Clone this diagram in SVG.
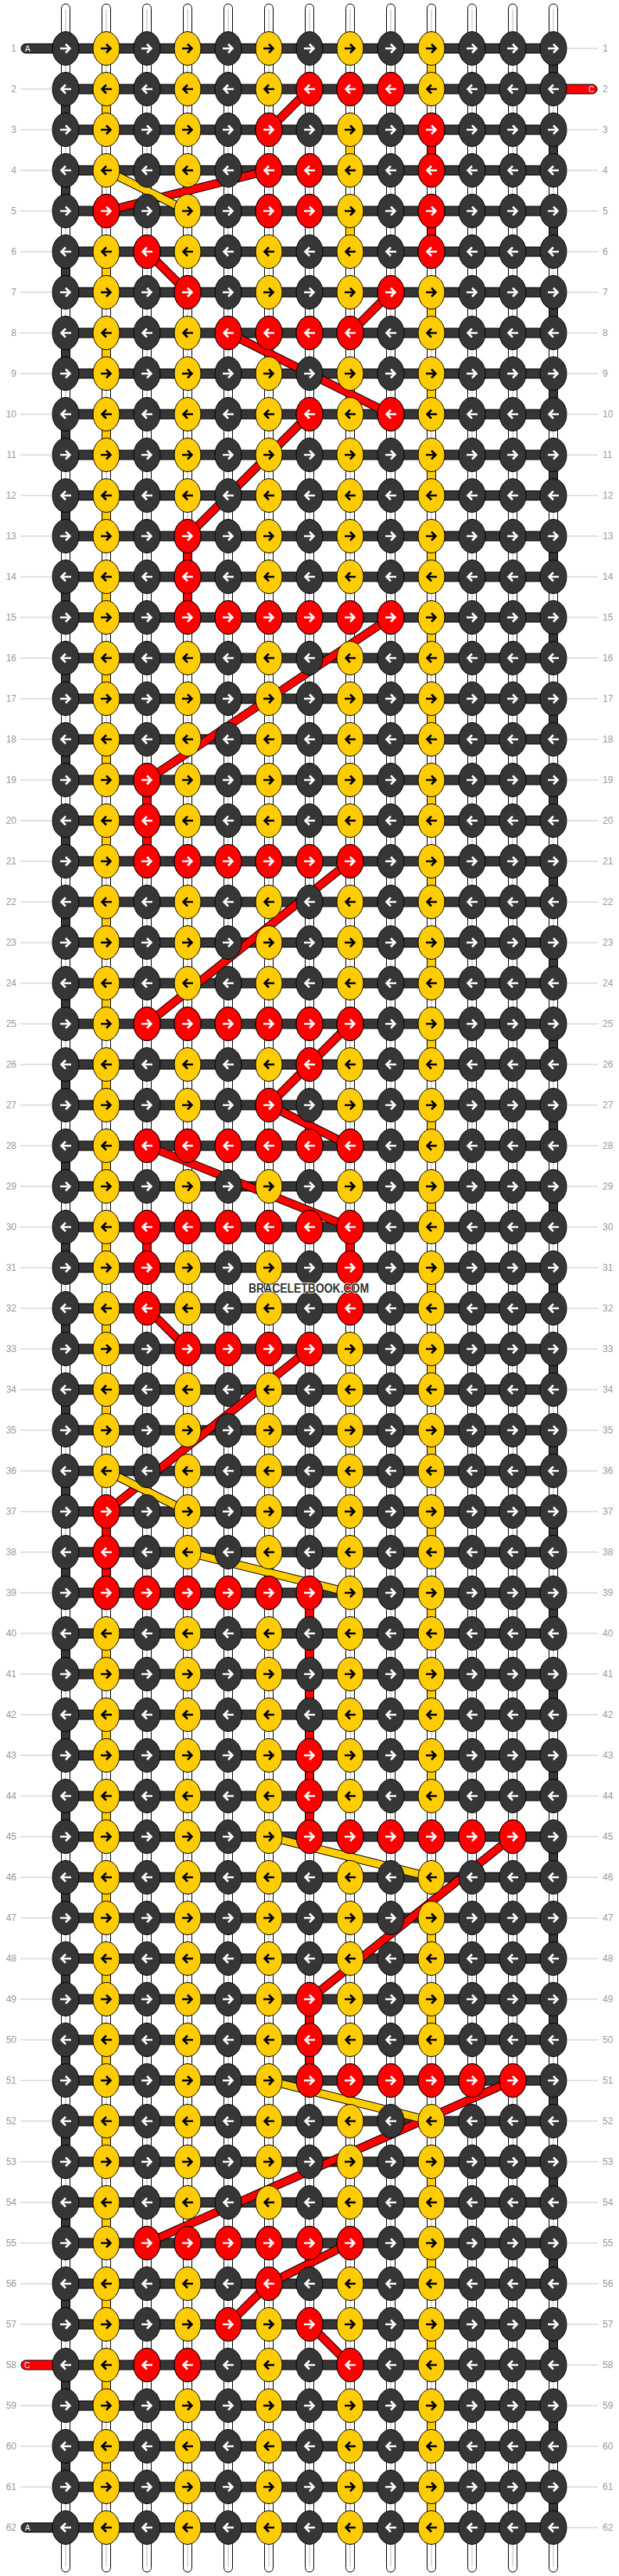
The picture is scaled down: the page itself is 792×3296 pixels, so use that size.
<svg xmlns="http://www.w3.org/2000/svg" xmlns:xlink="http://www.w3.org/1999/xlink" width="792" height="3296" viewBox="0 0 792 3296">
<style>
.t{font-family:"Liberation Sans",Arial,sans-serif}
.num{font-size:12px;fill:#999}
.aw{fill:none;stroke:#fff;stroke-width:2.6}
.ab{fill:none;stroke:#000;stroke-width:2.6}
.kd{fill:#363636;stroke:#000;stroke-width:1}
.ky{fill:#ffcc00;stroke:#000;stroke-width:1}
.kr{fill:#ff0000;stroke:#000;stroke-width:1}
.ln{fill:none;stroke:#c4c4c4;stroke-width:1.2}
.str{fill:#fff;stroke:#000;stroke-width:1}
.co{fill:none;stroke:#000;stroke-width:11;stroke-linejoin:round}
.cr{fill:none;stroke:#ff0000;stroke-width:9;stroke-linejoin:round}
.cy{fill:none;stroke:#ffcc00;stroke-width:9;stroke-linejoin:round}
.tail{font-size:10px;fill:#fff}
</style>
<defs>
<g id="dr"><ellipse class="kd" rx="17" ry="21.5"/><path class="aw" d="M-7 0H5M0-5.5L5.5 0L0 5.5"/></g>
<g id="dl"><ellipse class="kd" rx="17" ry="21.5"/><path class="aw" d="M7 0H-5M0-5.5L-5.5 0L0 5.5"/></g>
<g id="yr"><ellipse class="ky" rx="17" ry="21.5"/><path class="ab" d="M-7 0H5M0-5.5L5.5 0L0 5.5"/></g>
<g id="yl"><ellipse class="ky" rx="17" ry="21.5"/><path class="ab" d="M7 0H-5M0-5.5L-5.5 0L0 5.5"/></g>
<g id="rr"><ellipse class="kr" rx="17" ry="21.5"/><path class="aw" d="M-7 0H5M0-5.5L5.5 0L0 5.5"/></g>
<g id="rl"><ellipse class="kr" rx="17" ry="21.5"/><path class="aw" d="M7 0H-5M0-5.5L-5.5 0L0 5.5"/></g>
<g id="baseR"><use href="#dr" x="84"/><use href="#yr" x="136"/><use href="#dr" x="188"/><use href="#yr" x="240"/><use href="#dr" x="292"/><use href="#yr" x="344"/><use href="#dr" x="396"/><use href="#yr" x="448"/><use href="#dr" x="500"/><use href="#yr" x="552"/><use href="#dr" x="604"/><use href="#dr" x="656"/><use href="#dr" x="708"/></g>
<g id="baseL"><use href="#dl" x="84"/><use href="#yl" x="136"/><use href="#dl" x="188"/><use href="#yl" x="240"/><use href="#dl" x="292"/><use href="#yl" x="344"/><use href="#dl" x="396"/><use href="#yl" x="448"/><use href="#dl" x="500"/><use href="#yl" x="552"/><use href="#dl" x="604"/><use href="#dl" x="656"/><use href="#dl" x="708"/></g>
<rect id="sy" x="-5.5" y="18" width="11" height="16" fill="#ffcc00" stroke="#000"/>
<rect id="sr" x="-5.5" y="18" width="11" height="16" fill="#ff0000" stroke="#000"/>
<rect id="bar" x="84" y="-6" width="624" height="12" fill="#363636" stroke="#000"/>
</defs>
<rect width="792" height="3296" fill="#fff"/>

<g id="strings">
<rect class="str" x="78.5" y="5" width="11" height="3286" rx="5.5"/>
<rect class="str" x="130.5" y="5" width="11" height="3286" rx="5.5"/>
<rect class="str" x="182.5" y="5" width="11" height="3286" rx="5.5"/>
<rect class="str" x="234.5" y="5" width="11" height="3286" rx="5.5"/>
<rect class="str" x="286.5" y="5" width="11" height="3286" rx="5.5"/>
<rect class="str" x="338.5" y="5" width="11" height="3286" rx="5.5"/>
<rect class="str" x="390.5" y="5" width="11" height="3286" rx="5.5"/>
<rect class="str" x="442.5" y="5" width="11" height="3286" rx="5.5"/>
<rect class="str" x="494.5" y="5" width="11" height="3286" rx="5.5"/>
<rect class="str" x="546.5" y="5" width="11" height="3286" rx="5.5"/>
<rect class="str" x="598.5" y="5" width="11" height="3286" rx="5.5"/>
<rect class="str" x="650.5" y="5" width="11" height="3286" rx="5.5"/>
<rect class="str" x="702.5" y="5" width="11" height="3286" rx="5.5"/>
<path d="M84 12V3284M136 12V3284M188 12V3284M240 12V3284M292 12V3284M344 12V3284M396 12V3284M448 12V3284M500 12V3284M552 12V3284M604 12V3284M656 12V3284M708 12V3284" fill="none" stroke="#b8b8b8" stroke-width="1"/>
</g>

<g id="edge-turns">
<line x1="84" y1="114" x2="84" y2="3182" stroke="#000" stroke-width="12" stroke-dasharray="52 52"/>
<line x1="84" y1="114" x2="84" y2="3182" stroke="#363636" stroke-width="10" stroke-dasharray="52 52"/>
<line x1="708" y1="62" x2="708" y2="3234" stroke="#000" stroke-width="12" stroke-dasharray="52 52"/>
<line x1="708" y1="62" x2="708" y2="3234" stroke="#363636" stroke-width="10" stroke-dasharray="52 52"/>
</g>

<g id="vsegments">
<use href="#sy" x="136" y="114"/><use href="#sy" x="136" y="322"/><use href="#sy" x="136" y="426"/><use href="#sy" x="136" y="530"/><use href="#sy" x="136" y="634"/><use href="#sy" x="136" y="738"/><use href="#sy" x="136" y="842"/><use href="#sy" x="136" y="946"/><use href="#sy" x="136" y="1050"/><use href="#sy" x="136" y="1154"/><use href="#sy" x="136" y="1258"/><use href="#sy" x="136" y="1362"/><use href="#sy" x="136" y="1466"/><use href="#sy" x="136" y="1570"/><use href="#sy" x="136" y="1674"/><use href="#sy" x="136" y="1778"/><use href="#sy" x="136" y="2090"/><use href="#sy" x="136" y="2194"/><use href="#sy" x="136" y="2298"/><use href="#sy" x="136" y="2402"/><use href="#sy" x="136" y="2506"/><use href="#sy" x="136" y="2610"/><use href="#sy" x="136" y="2714"/><use href="#sy" x="136" y="2818"/><use href="#sy" x="136" y="2922"/><use href="#sy" x="136" y="3026"/><use href="#sy" x="136" y="3130"/>
<use href="#sy" x="552" y="62"/><use href="#sy" x="552" y="374"/><use href="#sy" x="552" y="478"/><use href="#sy" x="552" y="582"/><use href="#sy" x="552" y="686"/><use href="#sy" x="552" y="790"/><use href="#sy" x="552" y="894"/><use href="#sy" x="552" y="998"/><use href="#sy" x="552" y="1102"/><use href="#sy" x="552" y="1206"/><use href="#sy" x="552" y="1310"/><use href="#sy" x="552" y="1414"/><use href="#sy" x="552" y="1518"/><use href="#sy" x="552" y="1622"/><use href="#sy" x="552" y="1726"/><use href="#sy" x="552" y="1830"/><use href="#sy" x="552" y="1934"/><use href="#sy" x="552" y="2038"/><use href="#sy" x="552" y="2142"/><use href="#sy" x="552" y="2246"/><use href="#sy" x="552" y="2454"/><use href="#sy" x="552" y="2558"/><use href="#sy" x="552" y="2766"/><use href="#sy" x="552" y="2870"/><use href="#sy" x="552" y="2974"/><use href="#sy" x="552" y="3078"/><use href="#sy" x="552" y="3182"/>
<use href="#sy" x="448" y="166"/><use href="#sy" x="448" y="270"/>
<use href="#sr" x="552" y="166"/><use href="#sr" x="552" y="270"/><use href="#sr" x="240" y="686"/><use href="#sr" x="240" y="738"/><use href="#sr" x="188" y="998"/><use href="#sr" x="188" y="1050"/><use href="#sr" x="188" y="1570"/><use href="#sr" x="448" y="1570"/><use href="#sr" x="448" y="1622"/><use href="#sr" x="136" y="1934"/><use href="#sr" x="136" y="1986"/><use href="#sr" x="396" y="2038"/><use href="#sr" x="396" y="2090"/><use href="#sr" x="396" y="2142"/><use href="#sr" x="396" y="2194"/><use href="#sr" x="396" y="2246"/><use href="#sr" x="396" y="2298"/><use href="#sr" x="396" y="2558"/><use href="#sr" x="396" y="2610"/>
</g>

<g id="bars">
<use href="#bar" y="62"/><use href="#bar" y="114"/><use href="#bar" y="166"/><use href="#bar" y="218"/><use href="#bar" y="270"/><use href="#bar" y="322"/><use href="#bar" y="374"/><use href="#bar" y="426"/><use href="#bar" y="478"/><use href="#bar" y="530"/><use href="#bar" y="582"/><use href="#bar" y="634"/><use href="#bar" y="686"/><use href="#bar" y="738"/><use href="#bar" y="790"/><use href="#bar" y="842"/><use href="#bar" y="894"/><use href="#bar" y="946"/><use href="#bar" y="998"/><use href="#bar" y="1050"/><use href="#bar" y="1102"/><use href="#bar" y="1154"/><use href="#bar" y="1206"/><use href="#bar" y="1258"/><use href="#bar" y="1310"/><use href="#bar" y="1362"/><use href="#bar" y="1414"/><use href="#bar" y="1466"/><use href="#bar" y="1518"/><use href="#bar" y="1570"/><use href="#bar" y="1622"/><use href="#bar" y="1674"/><use href="#bar" y="1726"/><use href="#bar" y="1778"/><use href="#bar" y="1830"/><use href="#bar" y="1882"/><use href="#bar" y="1934"/><use href="#bar" y="1986"/><use href="#bar" y="2038"/><use href="#bar" y="2090"/><use href="#bar" y="2142"/><use href="#bar" y="2194"/><use href="#bar" y="2246"/><use href="#bar" y="2298"/><use href="#bar" y="2350"/><use href="#bar" y="2402"/><use href="#bar" y="2454"/><use href="#bar" y="2506"/><use href="#bar" y="2558"/><use href="#bar" y="2610"/><use href="#bar" y="2662"/><use href="#bar" y="2714"/><use href="#bar" y="2766"/><use href="#bar" y="2818"/><use href="#bar" y="2870"/><use href="#bar" y="2922"/><use href="#bar" y="2974"/><use href="#bar" y="3026"/><use href="#bar" y="3078"/><use href="#bar" y="3130"/><use href="#bar" y="3182"/><use href="#bar" y="3234"/>
</g>

<g id="tails" class="t">
<rect x="27" y="56" width="62" height="12" rx="6" fill="#363636" stroke="#000"/><text class="tail" x="32" y="65.6">A</text>
<rect x="703" y="108" width="61" height="12" rx="6" fill="#ff0000" stroke="#000"/><text class="tail" x="753" y="117.6">C</text>
<rect x="27" y="3020" width="62" height="12" rx="6" fill="#ff0000" stroke="#000"/><text class="tail" x="31" y="3029.6">C</text>
<rect x="27" y="3228" width="62" height="12" rx="6" fill="#363636" stroke="#000"/><text class="tail" x="32" y="3237.6">A</text>
</g>

<g id="connectors">
<g id="c1"><path class="co" d="M396 114L344 166"/><path class="cr" d="M396 114L344 166"/></g>
<g id="c2"><path class="co" d="M344 218L136 270"/><path class="cr" d="M344 218L136 270"/></g>
<g id="c3"><path class="co" d="M136 218L240 270"/><path class="cy" d="M136 218L240 270"/></g>
<g id="c4"><path class="co" d="M188 322L240 374"/><path class="cr" d="M188 322L240 374"/></g>
<g id="c5"><path class="co" d="M500 374L448 426"/><path class="cr" d="M500 374L448 426"/></g>
<g id="c6"><path class="co" d="M292 426L500 530"/><path class="cr" d="M292 426L500 530"/></g>
<g id="c7"><path class="co" d="M396 530L240 686"/><path class="cr" d="M396 530L240 686"/></g>
<g id="c8"><path class="co" d="M500 790L188 998"/><path class="cr" d="M500 790L188 998"/></g>
<g id="c9"><path class="co" d="M448 1102L188 1310"/><path class="cr" d="M448 1102L188 1310"/></g>
<g id="c10"><path class="co" d="M448 1310L344 1414"/><path class="cr" d="M448 1310L344 1414"/></g>
<g id="c11"><path class="co" d="M344 1414L448 1466"/><path class="cr" d="M344 1414L448 1466"/></g>
<g id="c12"><path class="co" d="M188 1466L448 1570"/><path class="cr" d="M188 1466L448 1570"/></g>
<g id="c13"><path class="co" d="M188 1674L240 1726"/><path class="cr" d="M188 1674L240 1726"/></g>
<g id="c14"><path class="co" d="M396 1726L136 1934"/><path class="cr" d="M396 1726L136 1934"/></g>
<g id="c15"><path class="co" d="M136 1882L240 1934"/><path class="cy" d="M136 1882L240 1934"/></g>
<g id="c16"><path class="co" d="M240 1986L448 2038"/><path class="cy" d="M240 1986L448 2038"/></g>
<g id="c18"><path class="co" d="M656 2350L396 2558"/><path class="cr" d="M656 2350L396 2558"/></g>
<g id="c17"><path class="co" d="M344 2350L552 2402"/><path class="cy" d="M344 2350L552 2402"/></g>
<g id="c20"><path class="co" d="M656 2662L188 2870"/><path class="cr" d="M656 2662L188 2870"/></g>
<g id="c19"><path class="co" d="M344 2662L552 2714"/><path class="cy" d="M344 2662L552 2714"/></g>
<g id="c21"><path class="co" d="M448 2870L344 2922L292 2974"/><path class="cr" d="M448 2870L344 2922L292 2974"/></g>
<g id="c22"><path class="co" d="M396 2974L448 3026"/><path class="cr" d="M396 2974L448 3026"/></g>
</g>

<g id="knots">
<g id="row-1" transform="translate(0,62)"><use href="#baseR"/></g>
<g id="row-2" transform="translate(0,114)"><use href="#baseL"/><use href="#rl" x="396"/><use href="#rl" x="448"/><use href="#rl" x="500"/></g>
<g id="row-3" transform="translate(0,166)"><use href="#baseR"/><use href="#rr" x="344"/><use href="#rr" x="552"/></g>
<g id="row-4" transform="translate(0,218)"><use href="#baseL"/><use href="#rl" x="344"/><use href="#rl" x="396"/><use href="#rl" x="552"/></g>
<g id="row-5" transform="translate(0,270)"><use href="#baseR"/><use href="#rr" x="136"/><use href="#rr" x="344"/><use href="#rr" x="396"/><use href="#rr" x="552"/></g>
<g id="row-6" transform="translate(0,322)"><use href="#baseL"/><use href="#rl" x="188"/><use href="#rl" x="552"/></g>
<g id="row-7" transform="translate(0,374)"><use href="#baseR"/><use href="#rr" x="240"/><use href="#rr" x="500"/></g>
<g id="row-8" transform="translate(0,426)"><use href="#baseL"/><use href="#rl" x="292"/><use href="#rl" x="344"/><use href="#rl" x="396"/><use href="#rl" x="448"/></g>
<g id="row-9" transform="translate(0,478)"><use href="#baseR"/></g>
<g id="row-10" transform="translate(0,530)"><use href="#baseL"/><use href="#rl" x="396"/><use href="#rl" x="500"/></g>
<g id="row-11" transform="translate(0,582)"><use href="#baseR"/></g>
<g id="row-12" transform="translate(0,634)"><use href="#baseL"/></g>
<g id="row-13" transform="translate(0,686)"><use href="#baseR"/><use href="#rr" x="240"/></g>
<g id="row-14" transform="translate(0,738)"><use href="#baseL"/><use href="#rl" x="240"/></g>
<g id="row-15" transform="translate(0,790)"><use href="#baseR"/><use href="#rr" x="240"/><use href="#rr" x="292"/><use href="#rr" x="344"/><use href="#rr" x="396"/><use href="#rr" x="448"/><use href="#rr" x="500"/></g>
<g id="row-16" transform="translate(0,842)"><use href="#baseL"/></g>
<g id="row-17" transform="translate(0,894)"><use href="#baseR"/></g>
<g id="row-18" transform="translate(0,946)"><use href="#baseL"/></g>
<g id="row-19" transform="translate(0,998)"><use href="#baseR"/><use href="#rr" x="188"/></g>
<g id="row-20" transform="translate(0,1050)"><use href="#baseL"/><use href="#rl" x="188"/></g>
<g id="row-21" transform="translate(0,1102)"><use href="#baseR"/><use href="#rr" x="188"/><use href="#rr" x="240"/><use href="#rr" x="292"/><use href="#rr" x="344"/><use href="#rr" x="396"/><use href="#rr" x="448"/></g>
<g id="row-22" transform="translate(0,1154)"><use href="#baseL"/></g>
<g id="row-23" transform="translate(0,1206)"><use href="#baseR"/></g>
<g id="row-24" transform="translate(0,1258)"><use href="#baseL"/></g>
<g id="row-25" transform="translate(0,1310)"><use href="#baseR"/><use href="#rr" x="188"/><use href="#rr" x="240"/><use href="#rr" x="292"/><use href="#rr" x="344"/><use href="#rr" x="396"/><use href="#rr" x="448"/></g>
<g id="row-26" transform="translate(0,1362)"><use href="#baseL"/><use href="#rl" x="396"/></g>
<g id="row-27" transform="translate(0,1414)"><use href="#baseR"/><use href="#rr" x="344"/></g>
<g id="row-28" transform="translate(0,1466)"><use href="#baseL"/><use href="#rl" x="188"/><use href="#rl" x="240"/><use href="#rl" x="292"/><use href="#rl" x="344"/><use href="#rl" x="396"/><use href="#rl" x="448"/></g>
<g id="row-29" transform="translate(0,1518)"><use href="#baseR"/></g>
<g id="row-30" transform="translate(0,1570)"><use href="#baseL"/><use href="#rl" x="188"/><use href="#rl" x="240"/><use href="#rl" x="292"/><use href="#rl" x="344"/><use href="#rl" x="396"/><use href="#rl" x="448"/></g>
<g id="row-31" transform="translate(0,1622)"><use href="#baseR"/><use href="#rr" x="188"/><use href="#rr" x="448"/></g>
<g id="row-32" transform="translate(0,1674)"><use href="#baseL"/><use href="#rl" x="188"/><use href="#rl" x="448"/></g>
<g id="row-33" transform="translate(0,1726)"><use href="#baseR"/><use href="#rr" x="240"/><use href="#rr" x="292"/><use href="#rr" x="344"/><use href="#rr" x="396"/></g>
<g id="row-34" transform="translate(0,1778)"><use href="#baseL"/></g>
<g id="row-35" transform="translate(0,1830)"><use href="#baseR"/></g>
<g id="row-36" transform="translate(0,1882)"><use href="#baseL"/></g>
<g id="row-37" transform="translate(0,1934)"><use href="#baseR"/><use href="#rr" x="136"/></g>
<g id="row-38" transform="translate(0,1986)"><use href="#baseL"/><use href="#rl" x="136"/></g>
<g id="row-39" transform="translate(0,2038)"><use href="#baseR"/><use href="#rr" x="136"/><use href="#rr" x="188"/><use href="#rr" x="240"/><use href="#rr" x="292"/><use href="#rr" x="344"/><use href="#rr" x="396"/></g>
<g id="row-40" transform="translate(0,2090)"><use href="#baseL"/></g>
<g id="row-41" transform="translate(0,2142)"><use href="#baseR"/></g>
<g id="row-42" transform="translate(0,2194)"><use href="#baseL"/></g>
<g id="row-43" transform="translate(0,2246)"><use href="#baseR"/><use href="#rr" x="396"/></g>
<g id="row-44" transform="translate(0,2298)"><use href="#baseL"/><use href="#rl" x="396"/></g>
<g id="row-45" transform="translate(0,2350)"><use href="#baseR"/><use href="#rr" x="396"/><use href="#rr" x="448"/><use href="#rr" x="500"/><use href="#rr" x="552"/><use href="#rr" x="604"/><use href="#rr" x="656"/></g>
<g id="row-46" transform="translate(0,2402)"><use href="#baseL"/></g>
<g id="row-47" transform="translate(0,2454)"><use href="#baseR"/></g>
<g id="row-48" transform="translate(0,2506)"><use href="#baseL"/></g>
<g id="row-49" transform="translate(0,2558)"><use href="#baseR"/><use href="#rr" x="396"/></g>
<g id="row-50" transform="translate(0,2610)"><use href="#baseL"/><use href="#rl" x="396"/></g>
<g id="row-51" transform="translate(0,2662)"><use href="#baseR"/><use href="#rr" x="396"/><use href="#rr" x="448"/><use href="#rr" x="500"/><use href="#rr" x="552"/><use href="#rr" x="604"/><use href="#rr" x="656"/></g>
<g id="row-52" transform="translate(0,2714)"><use href="#baseL"/></g>
<g id="row-53" transform="translate(0,2766)"><use href="#baseR"/></g>
<g id="row-54" transform="translate(0,2818)"><use href="#baseL"/></g>
<g id="row-55" transform="translate(0,2870)"><use href="#baseR"/><use href="#rr" x="188"/><use href="#rr" x="240"/><use href="#rr" x="292"/><use href="#rr" x="344"/><use href="#rr" x="396"/><use href="#rr" x="448"/></g>
<g id="row-56" transform="translate(0,2922)"><use href="#baseL"/><use href="#rl" x="344"/></g>
<g id="row-57" transform="translate(0,2974)"><use href="#baseR"/><use href="#rr" x="292"/><use href="#rr" x="396"/></g>
<g id="row-58" transform="translate(0,3026)"><use href="#baseL"/><use href="#rl" x="188"/><use href="#rl" x="240"/><use href="#rl" x="448"/></g>
<g id="row-59" transform="translate(0,3078)"><use href="#baseR"/></g>
<g id="row-60" transform="translate(0,3130)"><use href="#baseL"/></g>
<g id="row-61" transform="translate(0,3182)"><use href="#baseR"/></g>
<g id="row-62" transform="translate(0,3234)"><use href="#baseL"/></g>
</g>

<g id="label-lines">
<path class="ln" d="M26 114H67M26 166H67M26 218H67M26 270H67M26 322H67M26 374H67M26 426H67M26 478H67M26 530H67M26 582H67M26 634H67M26 686H67M26 738H67M26 790H67M26 842H67M26 894H67M26 946H67M26 998H67M26 1050H67M26 1102H67M26 1154H67M26 1206H67M26 1258H67M26 1310H67M26 1362H67M26 1414H67M26 1466H67M26 1518H67M26 1570H67M26 1622H67M26 1674H67M26 1726H67M26 1778H67M26 1830H67M26 1882H67M26 1934H67M26 1986H67M26 2038H67M26 2090H67M26 2142H67M26 2194H67M26 2246H67M26 2298H67M26 2350H67M26 2402H67M26 2454H67M26 2506H67M26 2558H67M26 2610H67M26 2662H67M26 2714H67M26 2766H67M26 2818H67M26 2870H67M26 2922H67M26 2974H67M26 3078H67M26 3130H67M26 3182H67"/>
<path class="ln" d="M725 62H765M725 166H765M725 218H765M725 270H765M725 322H765M725 374H765M725 426H765M725 478H765M725 530H765M725 582H765M725 634H765M725 686H765M725 738H765M725 790H765M725 842H765M725 894H765M725 946H765M725 998H765M725 1050H765M725 1102H765M725 1154H765M725 1206H765M725 1258H765M725 1310H765M725 1362H765M725 1414H765M725 1466H765M725 1518H765M725 1570H765M725 1622H765M725 1674H765M725 1726H765M725 1778H765M725 1830H765M725 1882H765M725 1934H765M725 1986H765M725 2038H765M725 2090H765M725 2142H765M725 2194H765M725 2246H765M725 2298H765M725 2350H765M725 2402H765M725 2454H765M725 2506H765M725 2558H765M725 2610H765M725 2662H765M725 2714H765M725 2766H765M725 2818H765M725 2870H765M725 2922H765M725 2974H765M725 3026H765M725 3078H765M725 3130H765M725 3182H765M725 3234H765"/>
</g>

<g id="row-numbers-left" class="t num" text-anchor="end" transform="translate(21,4.3)">
<text y="62">1</text><text y="114">2</text><text y="166">3</text><text y="218">4</text><text y="270">5</text><text y="322">6</text><text y="374">7</text><text y="426">8</text><text y="478">9</text><text y="530">10</text><text y="582">11</text><text y="634">12</text><text y="686">13</text><text y="738">14</text><text y="790">15</text><text y="842">16</text><text y="894">17</text><text y="946">18</text><text y="998">19</text><text y="1050">20</text><text y="1102">21</text><text y="1154">22</text><text y="1206">23</text><text y="1258">24</text><text y="1310">25</text><text y="1362">26</text><text y="1414">27</text><text y="1466">28</text><text y="1518">29</text><text y="1570">30</text><text y="1622">31</text><text y="1674">32</text><text y="1726">33</text><text y="1778">34</text><text y="1830">35</text><text y="1882">36</text><text y="1934">37</text><text y="1986">38</text><text y="2038">39</text><text y="2090">40</text><text y="2142">41</text><text y="2194">42</text><text y="2246">43</text><text y="2298">44</text><text y="2350">45</text><text y="2402">46</text><text y="2454">47</text><text y="2506">48</text><text y="2558">49</text><text y="2610">50</text><text y="2662">51</text><text y="2714">52</text><text y="2766">53</text><text y="2818">54</text><text y="2870">55</text><text y="2922">56</text><text y="2974">57</text><text y="3026">58</text><text y="3078">59</text><text y="3130">60</text><text y="3182">61</text><text y="3234">62</text>
</g>
<g id="row-numbers-right" class="t num" text-anchor="start" transform="translate(771,4.3)">
<text y="62">1</text><text y="114">2</text><text y="166">3</text><text y="218">4</text><text y="270">5</text><text y="322">6</text><text y="374">7</text><text y="426">8</text><text y="478">9</text><text y="530">10</text><text y="582">11</text><text y="634">12</text><text y="686">13</text><text y="738">14</text><text y="790">15</text><text y="842">16</text><text y="894">17</text><text y="946">18</text><text y="998">19</text><text y="1050">20</text><text y="1102">21</text><text y="1154">22</text><text y="1206">23</text><text y="1258">24</text><text y="1310">25</text><text y="1362">26</text><text y="1414">27</text><text y="1466">28</text><text y="1518">29</text><text y="1570">30</text><text y="1622">31</text><text y="1674">32</text><text y="1726">33</text><text y="1778">34</text><text y="1830">35</text><text y="1882">36</text><text y="1934">37</text><text y="1986">38</text><text y="2038">39</text><text y="2090">40</text><text y="2142">41</text><text y="2194">42</text><text y="2246">43</text><text y="2298">44</text><text y="2350">45</text><text y="2402">46</text><text y="2454">47</text><text y="2506">48</text><text y="2558">49</text><text y="2610">50</text><text y="2662">51</text><text y="2714">52</text><text y="2766">53</text><text y="2818">54</text><text y="2870">55</text><text y="2922">56</text><text y="2974">57</text><text y="3026">58</text><text y="3078">59</text><text y="3130">60</text><text y="3182">61</text><text y="3234">62</text>
</g>

<text id="watermark" class="t" x="395" y="1654" text-anchor="middle" font-size="16" font-weight="bold" fill="#333" stroke="#fff" stroke-width="1.5" paint-order="stroke" textLength="154" lengthAdjust="spacingAndGlyphs">BRACELETBOOK.COM</text>
</svg>
